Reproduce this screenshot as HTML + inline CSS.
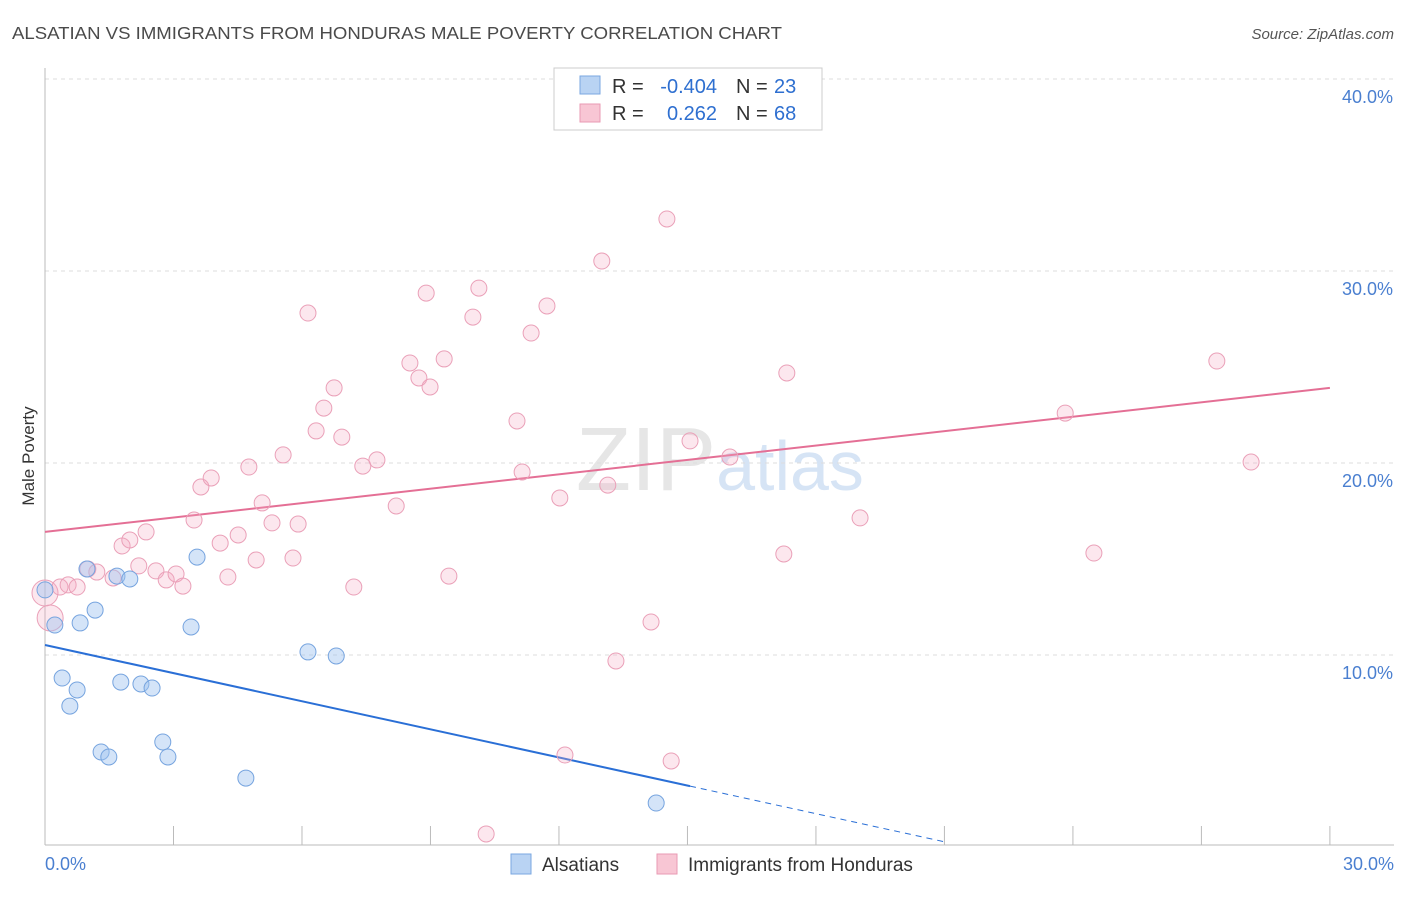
<!DOCTYPE html>
<html><head><meta charset="utf-8"><style>
body{margin:0;background:#fff;font-family:"Liberation Sans",sans-serif;}
svg text{font-family:"Liberation Sans",sans-serif;}
</style></head><body>
<svg id="chart" width="1406" height="892" viewBox="0 0 1406 892" xmlns="http://www.w3.org/2000/svg">
<text x="12" y="39" font-size="17.5" fill="#4a4a4a" textLength="770" lengthAdjust="spacingAndGlyphs">ALSATIAN VS IMMIGRANTS FROM HONDURAS MALE POVERTY CORRELATION CHART</text>
<text x="1394" y="39" font-size="15" fill="#555" text-anchor="end" font-style="italic">Source: ZipAtlas.com</text>
<text x="720" y="490" font-size="90" fill="#e6e6e6" text-anchor="middle" font-family="Liberation Serif">ZIP<tspan fill="#d6e4f5" font-family="Liberation Sans" font-size="70">atlas</tspan></text>
<g id="grid"></g><g id="axes"></g><g id="lines"></g><g id="points"></g>
<text transform="translate(34,456) rotate(-90)" font-size="17" fill="#333" text-anchor="middle">Male Poverty</text>
<g>
<rect x="554" y="68" width="268" height="62" fill="#fff" stroke="#ccc"/>
<rect x="580" y="76" width="20" height="18" fill="#b9d3f3" stroke="#7aa7e0"/>
<rect x="580" y="104" width="20" height="18" fill="#f8c6d4" stroke="#e99ab3"/>
<text x="612" y="93" font-size="20" fill="#333">R =</text>
<text x="717" y="93" font-size="20" fill="#2e6fd0" text-anchor="end">-0.404</text>
<text x="736" y="93" font-size="20" fill="#333">N =</text>
<text x="774" y="93" font-size="20" fill="#2e6fd0">23</text>
<text x="612" y="120" font-size="20" fill="#333">R =</text>
<text x="717" y="120" font-size="20" fill="#2e6fd0" text-anchor="end">0.262</text>
<text x="736" y="120" font-size="20" fill="#333">N =</text>
<text x="774" y="120" font-size="20" fill="#2e6fd0">68</text>
</g>
<g>
<rect x="511" y="854" width="20" height="20" fill="#b9d3f3" stroke="#7aa7e0"/>
<text x="542" y="871" font-size="19" fill="#333">Alsatians</text>
<rect x="657" y="854" width="20" height="20" fill="#f8c6d4" stroke="#e99ab3"/>
<text x="688" y="871" font-size="19" fill="#333">Immigrants from Honduras</text>
</g>
</svg>
<script>
const yTicks=[10,20,30,40];
const yTickLabels=["10.0%","20.0%","30.0%","40.0%"];
const xTickLabels=["0.0%","30.0%"];
const blueX=[0,0.23,0.40,0.58,0.75,0.82,0.98,1.17,1.31,1.49,1.68,1.77,1.98,2.24,2.50,2.75,2.87,3.41,3.55,4.69,6.14,6.80,14.27];
const blueY=[13.39,11.56,8.80,7.34,8.18,11.67,14.48,12.34,4.95,4.69,14.11,8.59,13.96,8.49,8.28,5.47,4.69,11.46,15.10,3.59,10.16,9.95,2.29];
const pinkX=[0.12,0,0.35,0.54,0.75,1.00,1.21,1.59,1.80,1.98,2.19,2.36,2.59,2.83,3.06,3.22,3.48,3.64,3.88,4.09,4.27,4.51,4.76,4.93,5.07,5.30,5.56,5.79,5.91,6.14,6.33,6.51,6.75,6.93,7.21,7.42,7.75,8.20,8.52,8.73,8.90,8.99,9.32,9.43,9.99,10.13,10.30,11.02,11.14,11.35,11.72,12.02,12.14,13.00,13.14,13.33,14.15,14.52,14.62,15.06,15.99,17.25,17.32,19.03,23.82,24.49,27.36,28.16];
const pinkY=[11.93,13.23,13.54,13.65,13.54,14.48,14.32,14.01,15.68,15.99,14.64,16.41,14.38,13.91,14.22,13.59,17.03,18.75,19.22,15.83,14.06,16.25,19.79,14.95,17.92,16.88,20.42,15.05,16.82,27.81,21.67,22.86,23.91,21.35,13.54,19.84,20.16,17.76,25.21,24.43,28.85,23.96,25.42,14.11,27.60,29.11,0.68,22.19,19.53,26.77,28.18,18.18,4.79,30.52,18.85,9.69,11.72,32.71,4.48,21.15,20.31,15.26,24.69,17.14,22.60,15.31,25.31,20.05];
const blueLine=[10.52,-0.488];
const pinkLine=[16.41,0.25];
const NS="http://www.w3.org/2000/svg";
const X=v=>45+v*42.83, Y=v=>847-v*19.2;
function mk(parent,tag,attrs){const e=document.createElementNS(NS,tag);for(const k in attrs)e.setAttribute(k,attrs[k]);document.getElementById(parent).appendChild(e);return e;}
yTicks.forEach((t,i)=>{
 const l=mk('grid','line',{x1:45,x2:1394,y1:Y(t),y2:Y(t),stroke:'#ddd','stroke-dasharray':'4,4'});
 
 
 const tx=mk('grid','text',{x:1393,y:Y(t)+24,'font-size':18,fill:'#4a7fd0','text-anchor':'end'});
 tx.textContent=yTickLabels[i];
 
 
});
const ax=mk('axes','line',{x1:45,x2:1394,y1:845,y2:845,stroke:'#bbb'});


const ay=mk('axes','line',{x1:45,x2:45,y1:68,y2:845,stroke:'#bbb'});


for(let i=1;i<=10;i++){const t=mk('axes','line',{x1:X(i*3),x2:X(i*3),y1:826,y2:845,stroke:'#bbb'});
 
 }
[[0,'start',45],[30,'end',1394]].forEach((d,i)=>{const t=mk('axes','text',{x:d[2],y:870,'font-size':18,fill:'#4a7fd0','text-anchor':d[1]});t.textContent=xTickLabels[i];
 
 });
const f=(L,x)=>L[0]+L[1]*x;
let bl=mk('lines','line',{x1:X(0),y1:Y(f(blueLine,0)),x2:X(15.06),y2:Y(f(blueLine,15.06)),stroke:'#2a6fd6','stroke-width':2});


let bd=mk('lines','line',{x1:X(15.06),y1:Y(f(blueLine,15.06)),x2:X(21),y2:Y(f(blueLine,21)),stroke:'#2a6fd6','stroke-width':1,'stroke-dasharray':'6,5'});


let pl=mk('lines','line',{x1:X(0),y1:Y(f(pinkLine,0)),x2:X(30),y2:Y(f(pinkLine,30)),stroke:'#e46f95','stroke-width':2});


pinkX.forEach((x,i)=>{const c=mk('points','circle',{cx:X(x),cy:Y(pinkY[i]),r:i<2?13:8,fill:'rgba(245,170,195,0.28)',stroke:'#eaa0b8','stroke-width':1});
 
 });
blueX.forEach((x,i)=>{const c=mk('points','circle',{cx:X(x),cy:Y(blueY[i]),r:8,fill:'rgba(160,195,240,0.45)',stroke:'#76a4df','stroke-width':1});
 
 });
</script>
</body></html>
